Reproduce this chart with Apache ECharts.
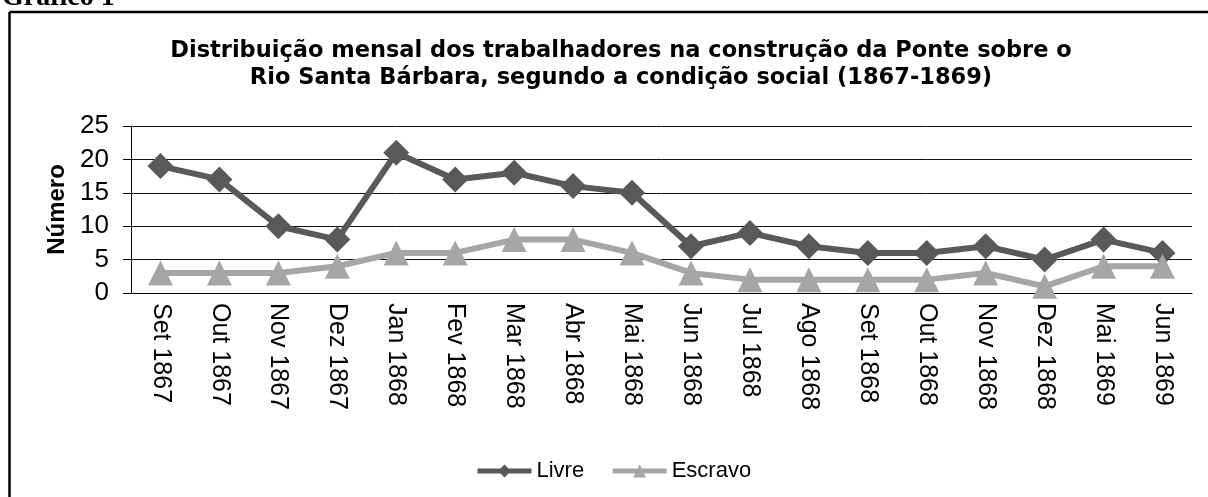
<!DOCTYPE html>
<html>
<head>
<meta charset="utf-8">
<script src="https://cdn.jsdelivr.net/npm/echarts@6/dist/echarts.min.js"></script>
<style>html,body{margin:0;padding:0;background:#fff;overflow:hidden}#c{width:1208px;height:497px}</style>
</head>
<body>
<div id="c"></div>
<script>
const categories = ["Set 1867","Out 1867","Nov 1867","Dez 1867","Jan 1868","Fev 1868","Mar 1868","Abr 1868","Mai 1868","Jun 1868","Jul 1868","Ago 1868","Set 1868","Out 1868","Nov 1868","Dez 1868","Mai 1869","Jun 1869"];
const livre = [19,17,10,8,21,17,18,16,15,7,9,7,6,6,7,5,8,6];
const escravo = [3,3,3,4,6,6,8,8,6,3,2,2,2,2,3,1,4,4];
const yTicks = [0,5,10,15,20,25];

const chart = echarts.init(document.getElementById('c'));
chart.setOption({
  animation: false,
  backgroundColor: '#fff',
  title: {
    text: 'Distribuição mensal dos trabalhadores na construção da Ponte sobre o\nRio Santa Bárbara, segundo a condição social (1867-1869)',
    left: 616, top: 33, textAlign: 'center',
    textStyle: {fontFamily: 'DejaVu Sans', fontSize: 22.5, fontWeight: 'bold', color: '#000', lineHeight: 27}
  },
  graphic: [
    {type: 'line', shape: {x1: 9.5, y1: 12, x2: 1208, y2: 12}, style: {stroke: '#000', lineWidth: 2.5}},
    {type: 'line', shape: {x1: 9.5, y1: 12, x2: 9.5, y2: 497}, style: {stroke: '#000', lineWidth: 2.5}},
    {type: 'text', x: 2, y: 12, style: {text: 'Gráfico 1', fontFamily: 'Liberation Serif', fontSize: 28, fontWeight: 'bold', fill: '#000', verticalAlign: 'bottom', textVerticalAlign: 'bottom'}}
  ],
  legend: {
    left: 470, top: 455, itemWidth: 54, itemHeight: 16, itemGap: 26,
    lineStyle: {width: 5},
    textStyle: {fontFamily: 'Liberation Sans', fontSize: 22, color: '#000'},
    data: ['Livre', 'Escravo']
  },
  grid: {left: 131, right: 16, top: 126, bottom: 204},
  xAxis: {
    type: 'category', data: categories, boundaryGap: true,
    axisLine: {lineStyle: {color: '#000', width: 1}},
    axisTick: {length: 8, lineStyle: {color: '#000'}},
    axisLabel: {rotate: -90, fontFamily: 'Liberation Sans', fontSize: 25, color: '#000', margin: 10, interval: 0}
  },
  yAxis: {
    type: 'value', min: yTicks[0], max: yTicks[yTicks.length-1], interval: 5,
    name: 'Número', nameLocation: 'middle', nameGap: 62, nameRotate: 90,
    nameTextStyle: {fontFamily: 'Liberation Sans', fontSize: 24, fontWeight: 'bold', color: '#000'},
    axisLine: {show: true, lineStyle: {color: '#000'}},
    axisTick: {show: true, length: 8, lineStyle: {color: '#000'}},
    axisLabel: {fontFamily: 'Liberation Sans', fontSize: 26, color: '#000', margin: 22},
    splitLine: {lineStyle: {color: '#111', width: 1}}
  },
  series: [
    {name: 'Livre', type: 'line', data: livre, symbol: 'diamond', symbolSize: 26,
     lineStyle: {color: '#595959', width: 6}, itemStyle: {color: '#595959'}, z: 3},
    {name: 'Escravo', type: 'line', data: escravo, symbol: 'triangle', symbolSize: 25,
     lineStyle: {color: '#a6a6a6', width: 6}, itemStyle: {color: '#a6a6a6'}, z: 4}
  ]
});
</script>
</body>
</html>
